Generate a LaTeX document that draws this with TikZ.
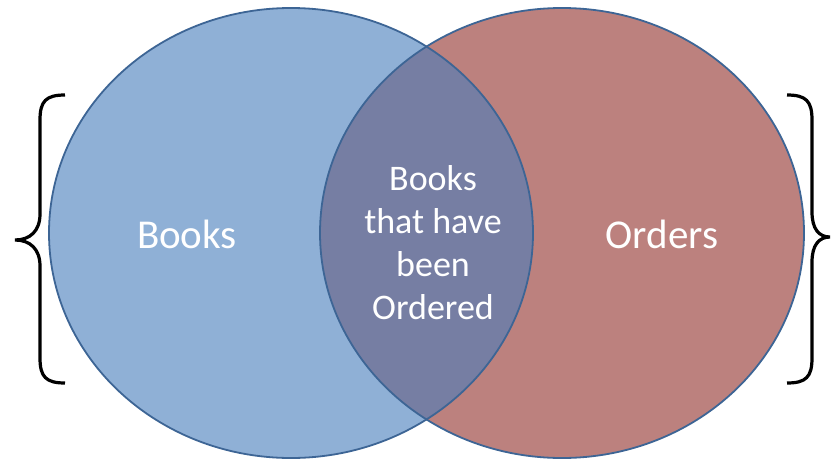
\documentclass[tikz,border=0pt]{standalone}
\usepackage{fontspec}
\setmainfont{Carlito}
\definecolor{booksblue}{HTML}{8FB0D6}
\definecolor{ordersred}{HTML}{BC817E}
\definecolor{bothblue}{HTML}{767EA3}
\definecolor{rimblue}{HTML}{3D6595}

\begin{document}
\begin{tikzpicture}[x=1pt,y=-1pt,
  setlabel/.style={text=white,inner sep=0pt,anchor=base,font=\fontsize{41}{48}\selectfont},
  brace/.style={line width=3.2pt,black}]
\useasboundingbox (0,0) rectangle (832,461);

\fill[booksblue] (291,233) ellipse (242 and 225);
\fill[ordersred] (562,233) ellipse (242 and 225);
\begin{scope}
\clip (291,233) ellipse (242 and 225);
\fill[bothblue] (562,233) ellipse (242 and 225);
\end{scope}
\draw[rimblue,line width=1.8pt] (291,233) ellipse (242 and 225);
\draw[rimblue,line width=1.8pt] (562,233) ellipse (242 and 225);

\node[setlabel] (books) at (187,248) {Books};
\node[setlabel] (orders) at (662,248) {Orders};
\node[text=white,inner sep=0pt,align=center,font=\fontsize{36}{43}\selectfont] (both) at (433,243)
  {Books\\that have\\been\\Ordered};

% braces
\draw[brace] (65,95) .. controls (46,95) and (40,101) .. (40,120) -- (40,214)
  .. controls (40,231) and (30,240) .. (15,240)
  .. controls (30,240) and (40,249) .. (40,266) -- (40,358)
  .. controls (40,377) and (46,383) .. (65,383);
\draw[brace] (787,95) .. controls (806,95) and (812,101) .. (812,120) -- (812,212)
  .. controls (812,229) and (819,237) .. (830,237)
  .. controls (819,237) and (812,245) .. (812,262) -- (812,358)
  .. controls (812,377) and (806,383) .. (787,383);
\end{tikzpicture}
\end{document}
